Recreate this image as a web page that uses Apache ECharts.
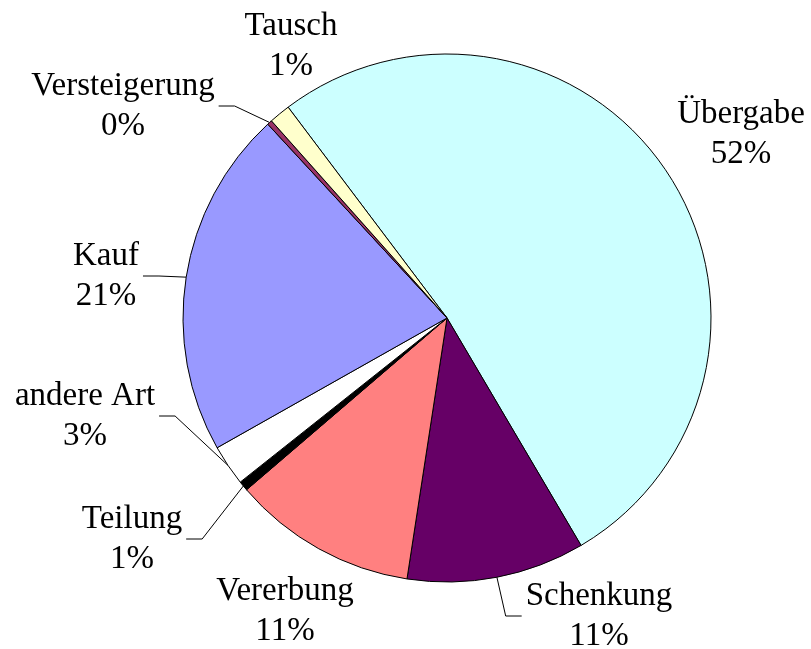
<!DOCTYPE html>
<html lang="de">
<head>
    <meta charset="utf-8">
    <script src="https://cdn.jsdelivr.net/npm/echarts@6/dist/echarts.min.js"></script>
    <style>
        html, body { margin: 0; padding: 0; background: #ffffff; }
        #chart { width: 811px; height: 649px; }
    </style>
</head>
<body>
<div id="chart"></div>
<script type="text/javascript">
    // Anteile (in %), im Uhrzeigersinn ab Übergabe
    var categories = ['Übergabe', 'Schenkung', 'Vererbung', 'Teilung', 'andere Art', 'Kauf', 'Versteigerung', 'Tausch'];
    var values = [51.8, 10.9, 11.3, 0.6, 2.5, 21.3, 0.3, 1.3];

    // Farben und Beschriftungslage (Layout, keine Daten)
    var colors = ['#CCFFFF', '#660066', '#FF8080', '#000000', '#FFFFFF', '#9999FF', '#993366', '#FFFFCC'];
    var labelPos = [[741, 134], [599, 616], [285, 611], [132, 539], [85, 416], [106, 276], [123, 106], [291, 46]];
    var showLine = [false, true, false, true, true, true, true, false];

    var chart = echarts.init(document.getElementById('chart'), null, { renderer: 'canvas' });

    var pieData = categories.map(function (name, i) {
        return {
            name: name,
            value: values[i],
            itemStyle: { color: colors[i] },
            labelLine: { show: showLine[i] }
        };
    });

    var option = {
        backgroundColor: '#ffffff',
        animation: false,
        series: [
            {
                type: 'pie',
                center: [447, 318],
                radius: 264,
                startAngle: 127,
                clockwise: true,
                avoidLabelOverlap: false,
                percentPrecision: 0,
                data: pieData,
                itemStyle: { borderColor: '#000000', borderWidth: 1 },
                label: {
                    show: true,
                    position: 'outside',
                    formatter: '{b}\n{d}%',
                    fontFamily: 'Liberation Serif',
                    fontSize: 33,
                    lineHeight: 40,
                    color: '#000000',
                    padding: [0, 4]
                },
                labelLine: {
                    show: true,
                    length: 10,
                    length2: 16,
                    lineStyle: { color: '#000000', width: 1 }
                },
                labelLayout: function (params) {
                    var p = labelPos[params.dataIndex];
                    return { x: p[0], y: p[1], align: 'center', verticalAlign: 'middle' };
                },
                emphasis: { disabled: true }
            }
        ]
    };
    chart.setOption(option);
</script>
</body>
</html>
